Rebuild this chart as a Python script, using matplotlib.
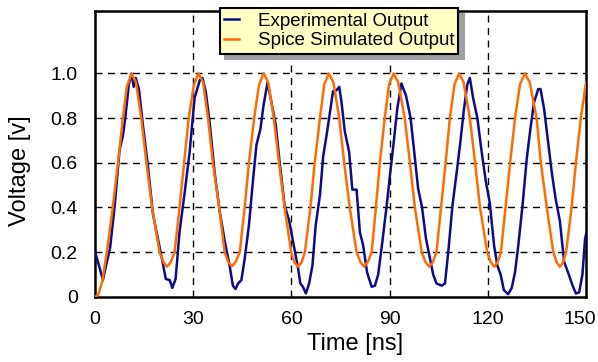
import matplotlib
matplotlib.use('Agg')
import matplotlib.pyplot as plt
import matplotlib.transforms as mtransforms

plt.rcParams['font.family'] = ['Liberation Sans', 'DejaVu Sans']

# Spice simulated output [ns], [V]
sim_t = [0, 1.0, 2.2, 3.6, 5.4, 7.0, 8.5, 9.7, 11.1,
         12.5, 14.1, 15.7, 17.4, 19.7, 20.9, 22.0,
         23.1, 24.3, 25.8, 27.2, 28.6, 30.2, 31.6,
         33.0, 34.5, 36.0, 37.9, 39.6, 40.7, 41.8,
         42.9, 44.2, 45.7, 47.0, 48.6, 50.1, 51.5,
         52.9, 54.6, 56.2, 57.9, 59.9, 60.9, 62.0,
         63.1, 64.1, 65.8, 67.1, 68.7, 70.0, 71.4,
         72.8, 74.6, 76.1, 77.8, 79.9, 81.1, 82.2,
         83.3, 84.5, 85.8, 87.0, 88.5, 89.8, 91.2,
         92.6, 94.6, 96.2, 97.7, 99.8, 101.0, 102.1,
         103.2, 104.3, 105.7, 107.1, 108.4, 109.8, 111.2,
         112.6, 114.5, 116.1, 117.6, 119.8, 120.9, 122.0,
         123.0, 124.0, 125.4, 126.8, 128.3, 129.8, 131.3,
         132.8, 134.9, 136.2, 138.0, 140.0, 141.0, 142.0,
         143.0, 143.9, 145.6, 146.9, 148.4, 150.0]
sim_v = [0, 0.01, 0.07, 0.2, 0.4, 0.6, 0.8, 0.94, 1.0,
         0.96, 0.8, 0.6, 0.4, 0.2, 0.155, 0.135,
         0.155, 0.2, 0.4, 0.6, 0.8, 0.95, 1.0,
         0.96, 0.8, 0.6, 0.4, 0.2, 0.155, 0.137,
         0.155, 0.2, 0.4, 0.6, 0.8, 0.95, 1.0,
         0.96, 0.8, 0.6, 0.4, 0.2, 0.155, 0.135,
         0.155, 0.2, 0.4, 0.6, 0.8, 0.95, 1.0,
         0.96, 0.8, 0.6, 0.4, 0.2, 0.155, 0.135,
         0.155, 0.2, 0.4, 0.6, 0.8, 0.95, 1.0,
         0.96, 0.8, 0.6, 0.4, 0.2, 0.155, 0.135,
         0.155, 0.2, 0.4, 0.6, 0.8, 0.95, 1.0,
         0.96, 0.8, 0.6, 0.4, 0.2, 0.155, 0.135,
         0.155, 0.2, 0.4, 0.6, 0.8, 0.95, 1.0,
         0.96, 0.8, 0.6, 0.4, 0.2, 0.155, 0.135,
         0.155, 0.2, 0.4, 0.6, 0.8, 0.96]

# Experimental output [ns], [V]
exp_t = [0, 1.2, 2.4, 3.6, 4.6, 6.0, 7.5, 8.5, 9.3, 10.3, 11.1, 11.8, 12.4, 13.4,
         14.6, 16.1, 17.7, 19.2, 20.6, 21.6, 22.8, 23.6, 24.6, 25.8, 27.4, 28.9,
         30.4, 32.0, 32.8, 33.8, 35.0, 36.5, 38.1, 39.6, 41.1, 42.1, 42.9, 43.7,
         44.7, 45.7, 47.0, 48.3, 49.3, 50.5, 51.5, 52.7, 53.9, 55.2, 56.4, 57.9,
         59.3, 60.7, 62.0, 62.7, 63.5, 64.4, 65.4, 66.4, 67.4, 68.7, 69.7, 70.9,
         71.9, 72.7, 73.8, 74.6, 75.3, 76.3, 77.6, 78.6, 79.9, 80.9, 81.9, 83.1,
         84.5, 85.5, 86.5, 87.8, 89.1, 90.1, 91.3, 92.3, 93.6, 95.0, 96.4, 97.7,
         98.7, 99.9, 101.1, 102.5, 103.3, 104.3, 105.9, 106.9, 107.9, 109.2, 110.5,
         111.5, 112.7, 113.7, 114.5, 115.5, 116.8, 118.1, 119.4, 120.6, 121.9,
         122.9, 123.9, 124.9, 126.2, 127.3, 128.3, 129.3, 130.6, 131.9, 132.9,
         134.1, 135.4, 136.1, 137.2, 138.2, 139.5, 140.7, 142.0, 143.3, 144.6,
         145.9, 146.9, 147.9, 148.9, 149.7, 150.0]
exp_v = [0.20, 0.14, 0.075, 0.157, 0.22, 0.41, 0.66, 0.72, 0.81, 0.95, 1.0, 0.94, 0.98, 0.93,
         0.77, 0.59, 0.37, 0.26, 0.157, 0.08, 0.075, 0.04, 0.08, 0.29, 0.47, 0.65,
         0.89, 0.97, 0.98, 0.92, 0.78, 0.56, 0.38, 0.25, 0.14, 0.05, 0.035, 0.06,
         0.075, 0.17, 0.32, 0.53, 0.68, 0.75, 0.86, 0.96, 0.87, 0.77, 0.60, 0.41,
         0.34, 0.23, 0.13, 0.06, 0.045, 0.015, 0.06, 0.14, 0.32, 0.455, 0.63, 0.74,
         0.84, 0.92, 0.925, 0.94, 0.87, 0.74, 0.65, 0.48, 0.48, 0.29, 0.23, 0.11,
         0.045, 0.05, 0.10, 0.25, 0.41, 0.545, 0.70, 0.84, 0.955, 0.90, 0.80, 0.62,
         0.485, 0.40, 0.26, 0.157, 0.10, 0.06, 0.05, 0.06, 0.20, 0.41, 0.56,
         0.68, 0.84, 0.95, 0.98, 0.89, 0.80, 0.65, 0.515, 0.42, 0.23,
         0.14, 0.10, 0.03, 0.012, 0.04, 0.11, 0.23, 0.41, 0.62, 0.74,
         0.87, 0.93, 0.93, 0.84, 0.72, 0.56, 0.44, 0.34, 0.157, 0.105,
         0.05, 0.015, 0.02, 0.10, 0.26, 0.28]

x_ticks = [0, 30, 60, 90, 120, 150]
y_ticks = [0, 0.2, 0.4, 0.6, 0.8, 1.0]
y_labels = ['0', '0.2', '0.4', '0.6', '0.8', '1.0']

blue = '#0c0c8a'
orange = '#ff6c00'

fig = plt.figure(figsize=(5.98, 3.62), dpi=100)
ax = fig.add_axes([0.159, 0.180, 0.821, 0.790])

# dashed grid, drawn by hand so the outer ticks get no line
for yv in y_ticks[1:]:
    ax.axhline(yv, color='black', lw=1.0, ls=(0, (5, 4)), zorder=1)
for xv in x_ticks[1:-1]:
    ax.axvline(xv, color='black', lw=1.0, ls=(0, (5, 4)), zorder=1)

ax.plot(exp_t, exp_v, color=blue, lw=1.8, label='Experimental Output', zorder=3)
ax.plot(sim_t, sim_v, color=orange, lw=1.8, label='Spice Simulated Output', zorder=3)

ax.set_xlim(0, 150)
ax.set_ylim(0, 1.28)
ax.set_xticks(x_ticks)
ax.set_yticks(y_ticks)
ax.set_yticklabels(y_labels)
ax.tick_params(length=0, labelsize=14)
ax.tick_params(axis='y', pad=12.5)
ax.tick_params(axis='x', pad=10)

# last x label sits right at the figure edge, nudge it in a bit
last = ax.get_xticklabels()[-1]
last.set_transform(last.get_transform() +
                   mtransforms.ScaledTranslation(-6 / 100, 0, fig.dpi_scale_trans))

for sp in ax.spines.values():
    sp.set_linewidth(1.8)

ax.set_xlabel('Time [ns]', fontsize=17)
ax.set_ylabel('Voltage [v]', fontsize=17)
ax.xaxis.set_label_coords(0.529, -0.125)
ax.yaxis.set_label_coords(-0.13, 0.44)

leg = ax.legend(loc='upper left', bbox_to_anchor=(0.254, 1.009), borderaxespad=0,
                fontsize=13.5, handlelength=0.8, handletextpad=1.0,
                labelspacing=0.15, borderpad=0.22, fancybox=False,
                shadow={'ox': 4, 'oy': -4, 'color': '#a0a0a0', 'alpha': 1})
leg.get_frame().set_facecolor('#ffffc4')
leg.get_frame().set_edgecolor('black')
leg.get_frame().set_linewidth(1.5)
leg.get_frame().set_alpha(1)
leg.set_zorder(10)

fig.savefig('out.png', dpi=100)
